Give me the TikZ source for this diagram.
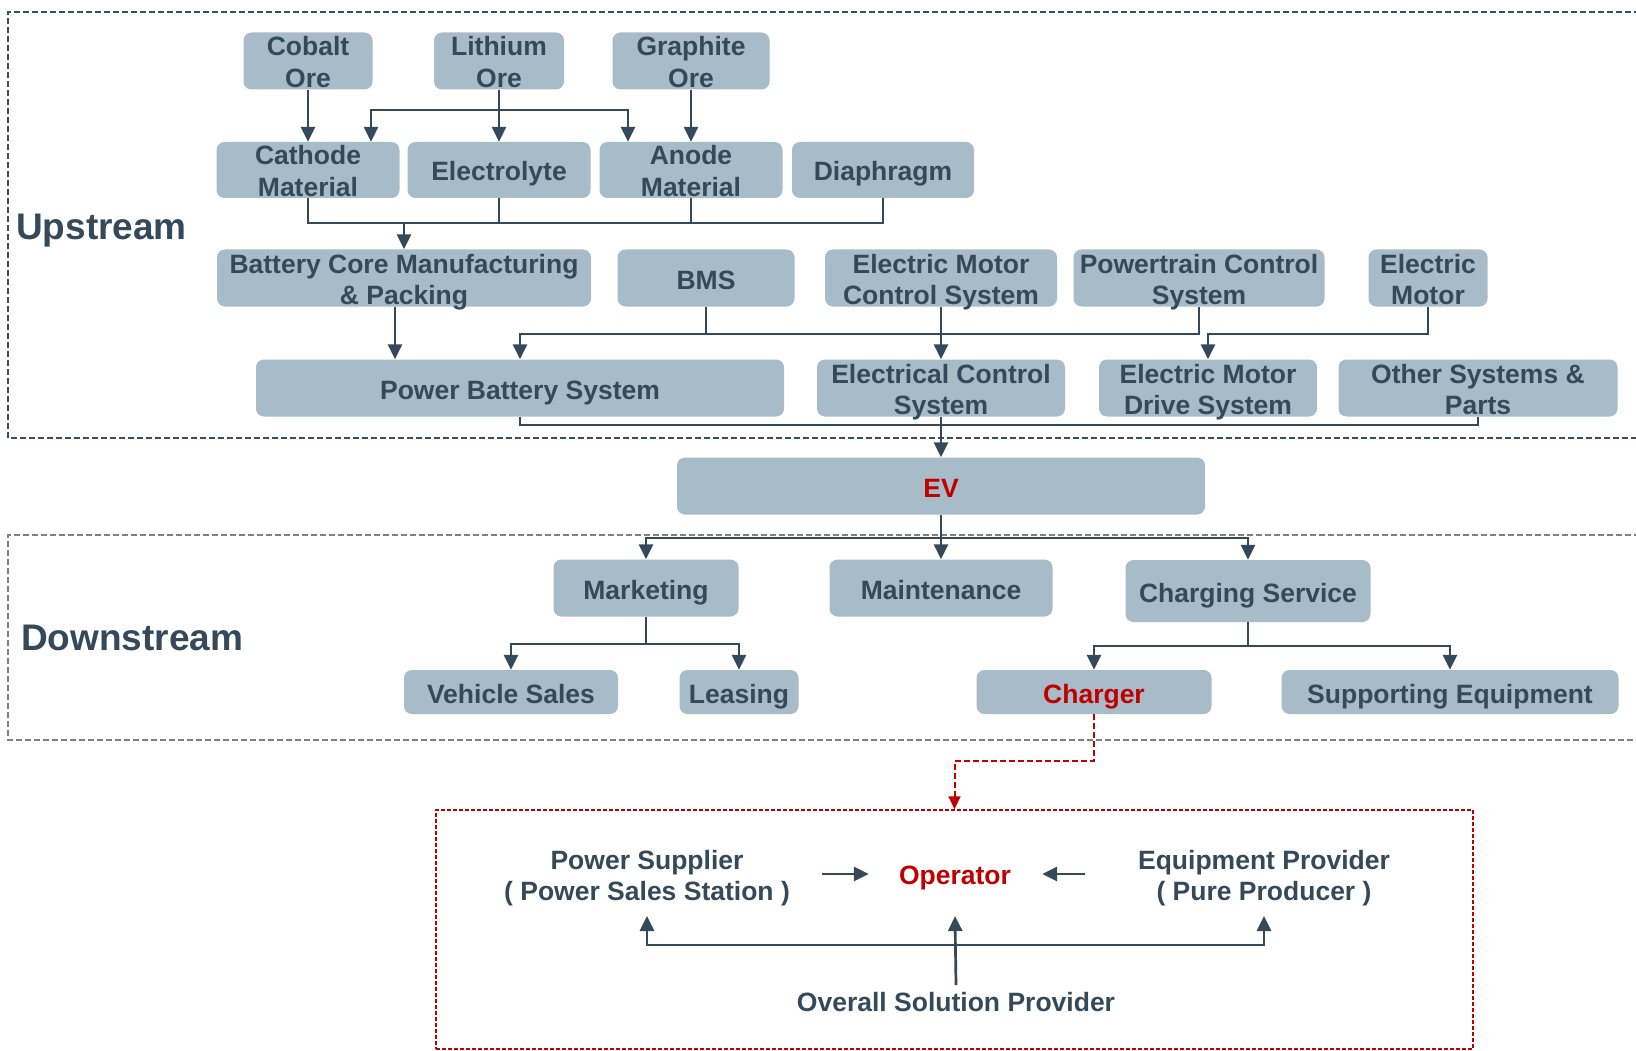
\documentclass[tikz,border=0pt]{standalone}
\usepackage{fontspec}
\setmainfont{Liberation Sans}
\usetikzlibrary{arrows.meta,calc}
\definecolor{boxfill}{HTML}{A7BBC8}
\definecolor{ink}{HTML}{34495A}
\definecolor{redc}{HTML}{C00000}
\definecolor{upborder}{HTML}{3E4C5A}
\definecolor{downborder}{HTML}{808080}
\newcommand\toprule{\rule{0pt}{21.5pt}}
\tikzset{
  bx/.style={fill=boxfill, draw=none, rounded corners=8pt, text=ink,
    font=\fontsize{26.5}{31.5}\selectfont\bfseries, align=center, inner sep=0pt,
    minimum height=57pt},
  one/.style={text height=22pt, text depth=0pt},
  two/.style={text depth=0pt},
  txt/.style={text=ink, font=\fontsize{26.5}{31}\selectfont\bfseries, align=center, inner sep=0pt},
  lbl/.style={text=ink, font=\fontsize{37}{40}\selectfont\bfseries, inner sep=0pt, anchor=west},
  ln/.style={draw=ink, line width=2.7pt},
  arr/.style={ln, -{Triangle[length=15pt,width=14pt]}},
  redarr/.style={draw=redc, line width=2pt, dash pattern=on 6pt off 3pt, -{Triangle[length=13pt,width=12pt]}},
}
\begin{document}
\begin{tikzpicture}[x=1pt,y=-1pt]
\useasboundingbox (0,0) rectangle (1636,1051);
% section frames
\draw[upborder, line width=1.5pt, dash pattern=on 6pt off 3pt] (1640,12) -- (8,12) -- (8,438) -- (1640,438);
\draw[downborder, line width=1.5pt, dash pattern=on 6pt off 3pt] (1640,535) -- (8,535) -- (8,740) -- (1640,740);
\node[draw=redc, line width=1.5pt, dash pattern=on 4pt off 2pt, minimum width=1037pt, minimum height=239pt, inner sep=0pt] (redbox) at (954.5,929.5) {};

\node[lbl] (upl) at (16,231) {Upstream};
\node[lbl] (downl) at (21,638) {Downstream};

% row 1
\node[bx, two, minimum width=129pt] (cobalt) at (308,61) {\toprule Cobalt\\Ore};
\node[bx, two, minimum width=130pt] (lithium) at (499,61) {\toprule Lithium\\Ore};
\node[bx, two, minimum width=157pt] (graphite) at (691,61) {\toprule Graphite\\Ore};
% row 2
\node[bx, two, minimum width=183pt, minimum height=56pt] (cathode) at (308,170) {\toprule Cathode\\Material};
\node[bx, one, minimum width=183pt, minimum height=56pt] (electrolyte) at (499,170) {Electrolyte};
\node[bx, two, minimum width=183pt, minimum height=56pt] (anode) at (691,170) {\toprule Anode\\Material};
\node[bx, one, minimum width=182pt, minimum height=56pt] (diaphragm) at (883,170) {Diaphragm};
% row 3
\node[bx, two, minimum width=374pt] (battery) at (404,278) {\toprule Battery Core Manufacturing\\\& Packing};
\node[bx, one, minimum width=177pt] (bms) at (706,278) {BMS};
\node[bx, two, minimum width=232pt] (emcs) at (941,278) {\toprule Electric Motor\\Control System};
\node[bx, two, minimum width=251pt] (powertrain) at (1199,278) {\toprule Powertrain Control\\System};
\node[bx, two, minimum width=119pt] (emotor) at (1428,278) {\toprule Electric\\Motor};
% row 4
\node[bx, one, minimum width=528pt] (pbs) at (520,388) {Power Battery System};
\node[bx, two, minimum width=248pt] (ecs) at (941,388) {\toprule Electrical Control\\System};
\node[bx, two, minimum width=218pt] (emds) at (1208,388) {\toprule Electric Motor\\Drive System};
\node[bx, two, minimum width=279pt] (other) at (1478,388) {\toprule Other Systems \&\\Parts};
% EV
\node[bx, one, minimum width=528pt, text=redc] (ev) at (941,486) {EV};
% downstream
\node[bx, one, minimum width=185pt] (marketing) at (646,588) {Marketing};
\node[bx, one, minimum width=223pt] (maintenance) at (941,588) {Maintenance};
\node[bx, one, minimum width=245pt, minimum height=62pt] (charging) at (1248,591) {Charging Service};
\node[bx, one, minimum width=214pt, minimum height=44pt] (vsales) at (511,692) {Vehicle Sales};
\node[bx, one, minimum width=119pt, minimum height=44pt] (leasing) at (739,692) {Leasing};
\node[bx, one, minimum width=235pt, minimum height=44pt, text=redc] (charger) at (1094,692) {Charger};
\node[bx, one, minimum width=337pt, minimum height=44pt] (supporting) at (1450,692) {Supporting Equipment};

% red box content
\node[txt] (ps) at (647,878) {Power Supplier\\( Power Sales Station )};
\node[txt, text=redc] (op) at (955,878) {Operator};
\node[txt] (ep) at (1264,878) {Equipment Provider\\( Pure Producer )};
\node[txt] (osp) at (956,1002) {Overall Solution Provider};

% junction coordinates
\coordinate (j1) at (499,110);
\coordinate (j2) at (404,223);
\coordinate (j3) at (0,334);
\coordinate (j4) at (0,425);
\coordinate (j5) at (0,538);
\coordinate (j6) at (0,644);
\coordinate (j7) at (0,646);
\coordinate (rj) at (0,761);
\coordinate (tipy) at (0,916);
\coordinate (hy) at (0,945);

% upstream connectors
\draw[arr] (cobalt.south) -- (cathode.north);
\draw[arr] (lithium.south) -- (electrolyte.north);
\draw[arr] (graphite.south) -- (anode.north);
\draw[arr] (j1) -| ([xshift=63pt]cathode.north);
\draw[arr] (j1) -| ([xshift=-63pt]anode.north);
\draw[ln] (cathode.south) |- (diaphragm.south |- j2) -- (diaphragm.south);
\draw[ln] (electrolyte.south) -- (electrolyte.south |- j2);
\draw[ln] (anode.south) -- (anode.south |- j2);
\draw[arr] (j2) -- (battery.north);
\draw[arr] ([xshift=-9pt]battery.south) -- ([xshift=-9pt]battery.south |- pbs.north);
\draw[arr] (bms.south) |- (pbs.north |- j3) -- (pbs.north);
\draw[ln] (bms.south |- j3) -- (powertrain.south |- j3) -- (powertrain.south);
\draw[arr] (emcs.south) -- (ecs.north);
\draw[arr] (emotor.south) |- (emds.north |- j3) -- (emds.north);
\draw[ln] (pbs.south) |- (other.south |- j4) -- (other.south);
\draw[arr] (ecs.south) -- (ev.north);

% downstream connectors
\draw[arr] (ev.south) -- (maintenance.north);
\draw[arr] (ev.south |- j5) -| (marketing.north);
\draw[arr] (ev.south |- j5) -| (charging.north);
\draw[ln] (marketing.south) -- (marketing.south |- j6);
\draw[arr] (marketing.south |- j6) -| (vsales.north);
\draw[arr] (marketing.south |- j6) -| (leasing.north);
\draw[ln] (charging.south) -- (charging.south |- j7);
\draw[arr] (charging.south |- j7) -| (charger.north);
\draw[arr] (charging.south |- j7) -| (supporting.north);

% charger to operator box
\draw[redarr] (charger.south) -- (charger.south |- rj) -| (redbox.north);

% red box arrows
\draw[arr] ($(ps.east)+(32,-4)$) -- ($(op.west)+(-30,-4)$);
\draw[arr] ($(ep.west)+(-53,-4)$) -- ($(op.east)+(31,-4)$);
\draw[arr] (op.south |- hy) -| (ps.south |- tipy);
\draw[arr] (op.south |- hy) -| (ep.south |- tipy);
\draw[arr] ($(osp.north)+(0,-7)$) -- (op.south |- tipy);
\end{tikzpicture}
\end{document}
